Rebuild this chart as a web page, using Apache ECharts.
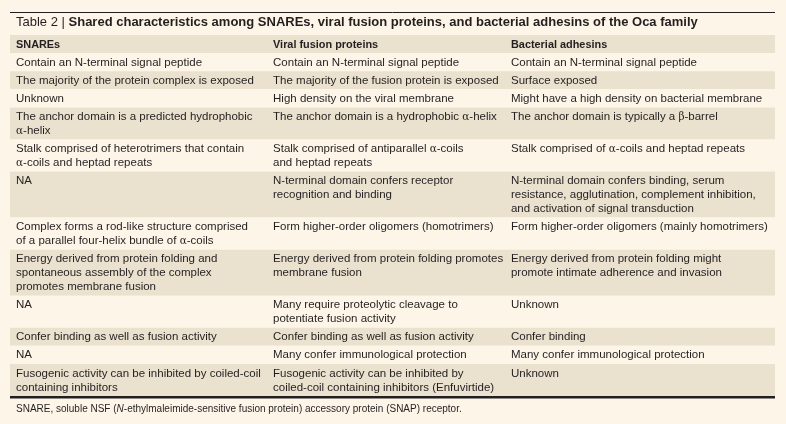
<!DOCTYPE html>
<html>
<head>
<meta charset="utf-8">
<script src="https://cdn.jsdelivr.net/npm/echarts@6/dist/echarts.min.js"></script>
<style>
html,body{margin:0;padding:0;background:#fdf6e8;}
#chart{width:786px;height:424px;}
</style>
</head>
<body>
<div id="chart"></div>
<script>
// ---- data ----
const tableLabel = 'Table 2 | ';
const tableTitle = 'Shared characteristics among SNAREs, viral fusion proteins, and bacterial adhesins of the Oca family';
const columns = ['SNAREs', 'Viral fusion proteins', 'Bacterial adhesins'];
const snares = [
  'Contain an N-terminal signal peptide',
  'The majority of the protein complex is exposed',
  'Unknown',
  'The anchor domain is a predicted hydrophobic\nα-helix',
  'Stalk comprised of heterotrimers that contain\nα-coils and heptad repeats',
  'NA',
  'Complex forms a rod-like structure comprised\nof a parallel four-helix bundle of α-coils',
  'Energy derived from protein folding and\nspontaneous assembly of the complex\npromotes membrane fusion',
  'NA',
  'Confer binding as well as fusion activity',
  'NA',
  'Fusogenic activity can be inhibited by coiled-coil\ncontaining inhibitors'
];
const viral = [
  'Contain an N-terminal signal peptide',
  'The majority of the fusion protein is exposed',
  'High density on the viral membrane',
  'The anchor domain is a hydrophobic α-helix',
  'Stalk comprised of antiparallel α-coils\nand heptad repeats',
  'N-terminal domain confers receptor\nrecognition and binding',
  'Form higher-order oligomers (homotrimers)',
  'Energy derived from protein folding promotes\nmembrane fusion',
  'Many require proteolytic cleavage to\npotentiate fusion activity',
  'Confer binding as well as fusion activity',
  'Many confer immunological protection',
  'Fusogenic activity can be inhibited by\ncoiled-coil containing inhibitors (Enfuvirtide)'
];
const bacterial = [
  'Contain an N-terminal signal peptide',
  'Surface exposed',
  'Might have a high density on bacterial membrane',
  'The anchor domain is typically a β-barrel',
  'Stalk comprised of α-coils and heptad repeats',
  'N-terminal domain confers binding, serum\nresistance, agglutination, complement inhibition,\nand activation of signal transduction',
  'Form higher-order oligomers (mainly homotrimers)',
  'Energy derived from protein folding might\npromote intimate adherence and invasion',
  'Unknown',
  'Confer binding',
  'Many confer immunological protection',
  'Unknown'
];
const footnoteBefore = 'SNARE, soluble NSF (';
const footnoteItalic = 'N';
const footnoteAfter = '-ethylmaleimide-sensitive fusion protein) accessory protein (SNAP) receptor.';

// ---- layout / style ----
const colStart = [0, 0.336, 0.647];
const PAD = 0.3;
const BG = '#fdf6e8';
const TAN = '#ebe1cf';
const INK = '#231f20';
const FONT = '"Liberation Sans", Arial, sans-serif';

const cols = [snares, viral, bacterial];
const rows = [];
let y = 0;
const headerSpan = 1 + PAD;
rows.push([0, y, y + headerSpan, -1]);
y += headerSpan;
for (let i = 0; i < snares.length; i++) {
  const lines = Math.max(...cols.map(c => c[i].split('\n').length));
  const span = lines + PAD;
  rows.push([0, y, y + span, i]);
  y += span;
}
const total = y;

function greek(s) {
  return s.replace(/[αβ]/g, m => '{g|' + m + '}');
}

const chart = echarts.init(document.getElementById('chart'), null, {renderer: 'canvas'});
chart.setOption({
  backgroundColor: BG,
  animation: false,
  title: [{
    left: 16, top: 16, padding: 0,
    text: '{a|' + tableLabel + '}{b|' + tableTitle + '}',
    textStyle: {
      rich: {
        a: {fontFamily: FONT, fontSize: 13, color: INK, fontWeight: 'normal'},
        b: {fontFamily: FONT, fontSize: 13, color: INK, fontWeight: 'bold'}
      }
    }
  }, {
    left: 16, top: 404, padding: 0,
    text: '{a|' + footnoteBefore + '}{i|' + footnoteItalic + '}{a|' + footnoteAfter + '}',
    textStyle: {
      fontWeight: 'normal',
      rich: {
        a: {fontFamily: FONT, fontSize: 10, color: INK, fontWeight: 'normal'},
        i: {fontFamily: FONT, fontSize: 10, color: INK, fontWeight: 'normal', fontStyle: 'italic'}
      }
    }
  }],
  graphic: [{
    type: 'line',
    shape: {x1: 10, y1: 12.5, x2: 775, y2: 12.5},
    style: {stroke: INK, lineWidth: 1}
  }],
  grid: {left: 10, right: 11, top: 35, bottom: 28},
  xAxis: {type: 'value', min: 0, max: 1, show: false},
  yAxis: {type: 'value', min: 0, max: total, inverse: true, show: false},
  series: [{
    type: 'custom',
    coordinateSystem: 'cartesian2d',
    encode: {x: 0, y: [1, 2]},
    data: rows,
    clip: false,
    renderItem: function (params, api) {
      const y0 = api.value(1), y1 = api.value(2), idx = api.value(3);
      const p0 = api.coord([0, y0]);
      const p1 = api.coord([1, y1]);
      const children = [];
      const fill = (idx === -1 || idx % 2 === 1) ? TAN : BG;
      children.push({
        type: 'rect',
        shape: {x: p0[0], y: p0[1], width: p1[0] - p0[0], height: p1[1] - p0[1]},
        style: {fill: fill}
      });
      for (let c = 0; c < 3; c++) {
        const px = api.coord([colStart[c], y0])[0];
        const txt = idx === -1 ? columns[c] : greek(cols[c][idx]);
        children.push({
          type: 'text',
          x: px + 6, y: p0[1] + 2.5,
          style: {
            text: txt,
            fill: INK,
            font: idx === -1 ? ('bold 10.9px ' + FONT) : ('11.5px ' + FONT),
            lineHeight: 14,
            verticalAlign: 'top',
            align: 'left',
            rich: {
              g: {fontFamily: '"DejaVu Serif", serif', fontSize: 10.5, lineHeight: 14, fill: INK}
            }
          }
        });
      }
      if (idx === snares.length - 1) {
        children.push({
          type: 'line',
          shape: {x1: p0[0], y1: p1[1] + 1.2, x2: p1[0], y2: p1[1] + 1.2},
          style: {stroke: INK, lineWidth: 2.5}
        });
      }
      return {type: 'group', children: children};
    }
  }]
});
</script>
</body>
</html>
